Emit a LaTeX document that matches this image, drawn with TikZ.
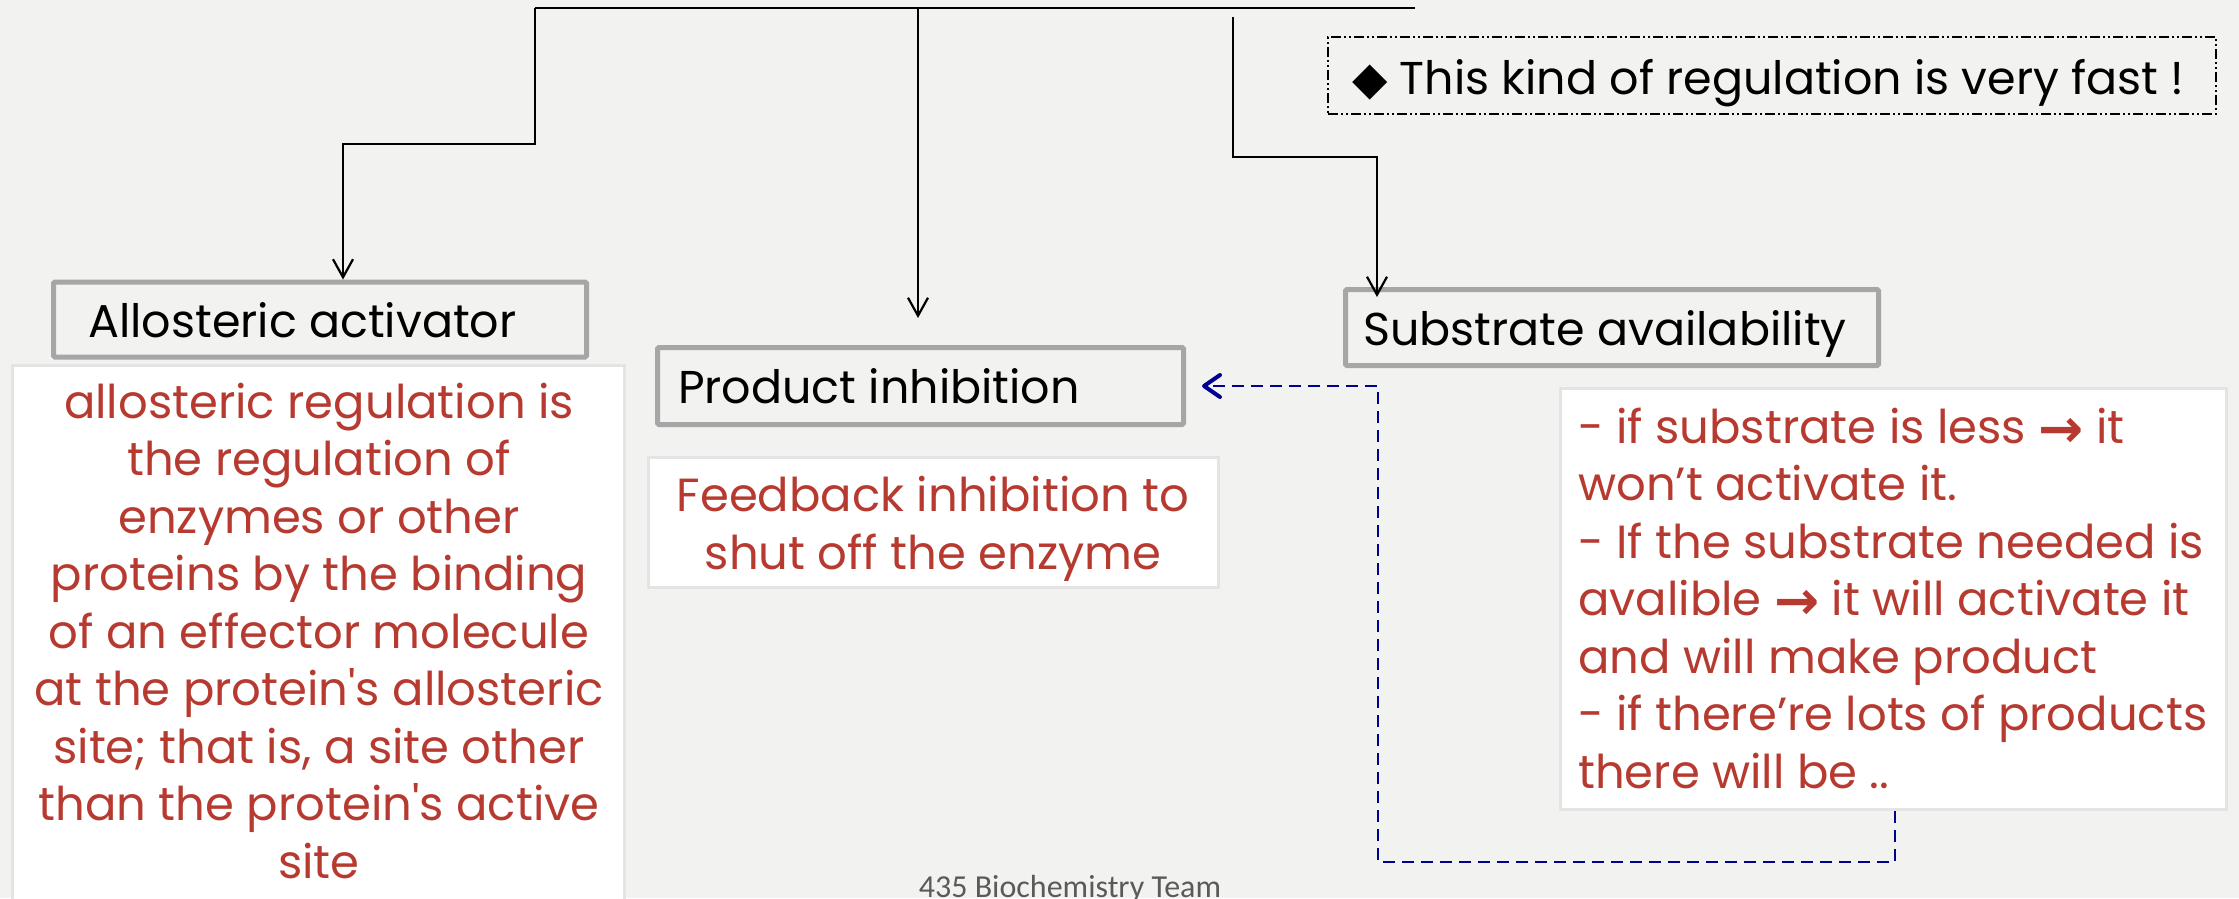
\documentclass[tikz,border=0pt]{standalone}
\usepackage{fontspec}
\setmainfont{Poppins}[Ligatures=TeXOff]
\newfontfamily\dejavu{DejaVu Sans}
\newfontfamily\carlito{Carlito}
\usetikzlibrary{arrows.meta}
\definecolor{bg}{RGB}{242,242,240}
\definecolor{txtred}{RGB}{183,58,48}
\definecolor{boxgray}{RGB}{166,166,166}
\definecolor{navyline}{RGB}{0,0,145}
\definecolor{paleedge}{RGB}{228,228,228}
\definecolor{footgray}{RGB}{90,90,90}
\newcommand{\rarr}{\raisebox{-4pt}{\dejavu\bfseries\fontsize{54}{54}\selectfont →}}
\begin{document}
\begin{tikzpicture}[x=1pt,y=-1pt,
  graybox/.style={draw=boxgray, line width=5pt, fill=bg, inner sep=0pt, rounded corners=1.5pt},
  whitebox/.style={draw=paleedge, line width=3pt, fill=white, inner sep=0pt},
  lbl/.style={font=\fontsize{46}{46}\selectfont, text=black, inner sep=0pt},
  redtxt/.style={font=\fontsize{46.5}{57.5}\selectfont, text=txtred, inner sep=0pt},
  conn/.style={draw=black, line width=2.2pt, line join=miter},
  tip/.style={-{Straight Barb[length=18pt,width=20pt,line width=2.2pt]}},
  fb/.style={draw=navyline, line width=2.6pt, dash pattern=on 12pt off 7pt,
     -{Straight Barb[length=16pt,width=22pt,line width=4pt,round]}},
  notebox/.style={draw=black, line width=1.6pt,
     dash pattern=on 10pt off 3pt on 2pt off 3pt on 2pt off 3pt, inner sep=0pt}
]
\useasboundingbox (0,0) rectangle (2239,898);
\clip (0,0) rectangle (2239,898);
\fill[bg] (0,0) rectangle (2239,898);

% boxes
\node[graybox, minimum width=533pt, minimum height=75pt] (allo) at (320,319.5) {};
\node[graybox, minimum width=526pt, minimum height=77pt] (prod) at (920.5,386) {};
\node[graybox, minimum width=533pt, minimum height=76pt] (subs) at (1612,327.5) {};
\node[whitebox, minimum width=612pt, minimum height=560pt, anchor=north] (leftbox) at (318.5,364) {};
\node[whitebox, minimum width=570pt, minimum height=130pt] (feed) at (933.5,522.5) {};
\node[whitebox, minimum width=666pt, minimum height=421pt] (rbox) at (1893.5,599) {};
\node[notebox, minimum width=888pt, minimum height=77pt] (note) at (1772,75.5) {};

% labels
\node[lbl, anchor=base west] (allot) at (88,337) {Allosteric activator};
\node[lbl, anchor=base west] (prodt) at (678,403) {Product inhibition};
\node[lbl, anchor=base west] (subst) at (1363,345) {Substrate availability};
\node[lbl, anchor=base west] (notet) at (1352,94) {{\dejavu ◆} This kind of regulation is very fast !};

\node[redtxt, align=center, anchor=base] (lefttxt) at (319,878) {allosteric regulation is\\
the regulation of\\ enzymes or other\\ proteins by the binding\\ of an effector molecule\\
at the protein's allosteric\\ site; that is, a site other\\ than the protein's active\\ site};
\node[redtxt, align=center, anchor=base] (feedtxt) at (933,569) {Feedback inhibition to\\ shut off the enzyme};
\node[redtxt, align=left, anchor=base west] (rtxt) at (1578,788) {- if substrate is less \rarr{} it\\
won’t activate it.\\ - If the substrate needed is\\ avalible \rarr{} it will activate it\\
and will make product\\ - if there’re lots of products\\ there will be ..};

\node[font=\carlito\fontsize{32}{32}\selectfont, text=footgray, anchor=base, inner sep=0pt] (foot) at (1070,897) {435 Biochemistry Team};

% connectors
\coordinate (busL) at (535,8);
\coordinate (busM) at (918,8);
\coordinate (busR) at (1415,8);
\coordinate (k1) at (535,144);
\coordinate (k2) at (343,144);
\coordinate (midtip) at (918,318);
\coordinate (r0) at (1233,17);
\coordinate (r1) at (1233,157);
\coordinate (r2) at (1377,157);
\coordinate (rtip) at (1377,297);
\draw[conn] (busL) -- (busR);
\draw[conn, tip] (busL) -- (k1) -- (k2) -- (k2 |- allo.north);
\draw[conn, tip] (busM) -- (midtip);
\draw[conn, tip] (r0) -- (r1) -- (r2) -- (rtip);

\coordinate (b1) at (1895,862);
\coordinate (b2) at (1378,862);
\draw[fb] (rbox.south -| b1) -- (b1) -- (b2) -- (b2 |- prod.east) -- ([xshift=16pt]prod.east);
\end{tikzpicture}
\end{document}
